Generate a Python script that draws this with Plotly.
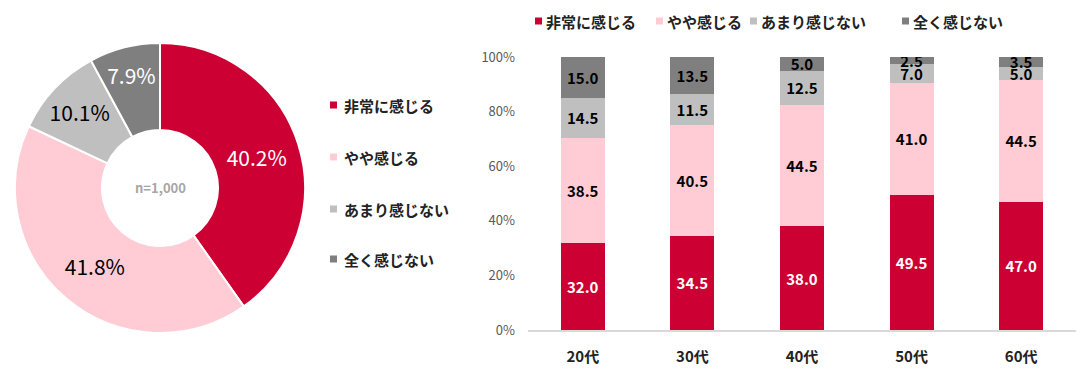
import plotly.graph_objects as go

categories = ["非常に感じる", "やや感じる", "あまり感じない", "全く感じない"]
colors = ["#CC0033", "#FFCCD5", "#BFBFBF", "#7F7F7F"]
pie_values = [40.2, 41.8, 10.1, 7.9]
pie_text_colors = ["white", "black", "black", "white"]

ages = ["20代", "30代", "40代", "50代", "60代"]
bar_values = {
    "非常に感じる": [32.0, 34.5, 38.0, 49.5, 47.0],
    "やや感じる": [38.5, 40.5, 44.5, 41.0, 44.5],
    "あまり感じない": [14.5, 11.5, 12.5, 7.0, 5.0],
    "全く感じない": [15.0, 13.5, 5.0, 2.5, 3.5],
}
bar_text_colors = ["white", "black", "black", "black"]
y_ticks = [0, 20, 40, 60, 80, 100]

W, H = 1078, 377
FONT = "Noto Sans CJK JP"

def px(x):
    return x / W

def py(y):
    return 1 - y / H

fig = go.Figure()

fig.add_trace(go.Pie(
    labels=categories, values=pie_values, hole=0.4, sort=False, direction="clockwise",
    rotation=0, marker=dict(colors=colors, line=dict(color="white", width=2)),
    texttemplate="%{value:.1f}%", textposition="inside", insidetextorientation="horizontal",
    textfont=dict(family=FONT, size=21, color=pie_text_colors),
    domain=dict(x=[px(15), px(305)], y=[py(333), py(43)]),
    showlegend=False, hoverinfo="label+value",
))

for i, cat in enumerate(categories):
    fig.add_trace(go.Bar(
        x=ages, y=bar_values[cat], name=cat, marker=dict(color=colors[i], line=dict(width=0)),
        text=[f"<b>{v:.1f}</b>" for v in bar_values[cat]], textposition="inside",
        insidetextanchor="middle", constraintext="none", textangle=0,
        textfont=dict(family=FONT, size=15, color=bar_text_colors[i]),
        width=0.4, showlegend=False,
    ))

fig.update_layout(
    width=W, height=H, margin=dict(l=0, r=0, t=0, b=0, autoexpand=False),
    paper_bgcolor="white", plot_bgcolor="white", barmode="stack",
    font=dict(family=FONT, color="#222"),
    xaxis=dict(domain=[px(528), px(1076)], showgrid=False, showline=True,
               linecolor="#D9D9D9", linewidth=1.5, ticks="", ticklabelstandoff=12,
               tickfont=dict(family=FONT, size=15, color="#222"), fixedrange=True,
               tickvals=ages, ticktext=[f"<b>{a}</b>" for a in ages]),
    yaxis=dict(domain=[py(330), py(57)], range=[0, 100], showgrid=False, showline=False,
               tickvals=y_ticks, ticktext=[f"{v}%" for v in y_ticks], zeroline=False,
               tickfont=dict(family=FONT, size=13, color="#595959"), ticks="",
               ticklabelstandoff=12),
)

fig.add_annotation(x=px(160), y=py(188), xref="paper", yref="paper", text="<b>n=1,000</b>",
                   showarrow=False, xanchor="center", yanchor="middle",
                   font=dict(family=FONT, size=13, color="#A6A6A6"))

# left legend (for donut)
legend_y = [105, 157, 209, 259]
for cat, col, yy in zip(categories, colors, legend_y):
    fig.add_shape(type="rect", xref="paper", yref="paper",
                  x0=px(330), x1=px(337), y0=py(yy + 3.5), y1=py(yy - 3.5),
                  fillcolor=col, line=dict(width=0))
    fig.add_annotation(x=px(342), y=py(yy), xref="paper", yref="paper", text=f"<b>{cat}</b>",
                       showarrow=False, xanchor="left", yanchor="middle",
                       font=dict(family=FONT, size=15, color="#222"))

# top legend (for bars)
top_x = [535, 656, 750, 902]
for cat, col, xx in zip(categories, colors, top_x):
    fig.add_shape(type="rect", xref="paper", yref="paper",
                  x0=px(xx), x1=px(xx + 7), y0=py(24.5), y1=py(17.5),
                  fillcolor=col, line=dict(width=0))
    fig.add_annotation(x=px(xx + 9), y=py(21), xref="paper", yref="paper", text=f"<b>{cat}</b>",
                       showarrow=False, xanchor="left", yanchor="middle",
                       font=dict(family=FONT, size=15, color="#222"))

fig.write_html("out.html", config={"displayModeBar": False},
               post_script="document.body.style.margin='0px';")
